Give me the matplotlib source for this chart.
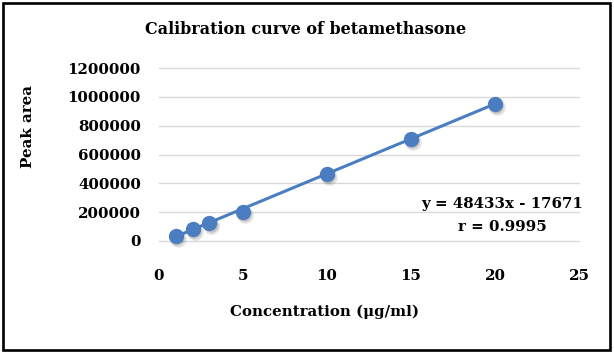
import numpy as np
import matplotlib
matplotlib.use("Agg")
from matplotlib import pyplot as plt
from matplotlib import transforms
from matplotlib.patches import Rectangle

# data
conc = [1, 2, 3, 5, 10, 15, 20]
area = [35000, 85000, 125000, 200000, 465000, 705000, 950000]
slope = 48433
intercept = -17671
eq_text = "y = 48433x - 17671"
r_text = "r = 0.9995"
x_ticks = [0, 5, 10, 15, 20, 25]
y_ticks = [0, 200000, 400000, 600000, 800000, 1000000, 1200000]

blue = "#4A7EC1"
font = "DejaVu Serif"

plt.rcParams["font.family"] = font
plt.rcParams["font.weight"] = "bold"

fig = plt.figure(figsize=(6.14, 3.53), dpi=100)
ax = fig.add_axes([159 / 614, 1 - 241 / 353, 420 / 614, 173 / 353])

# trend line from the fitted equation
xl = np.array([conc[0], conc[-1]])
ax.plot(xl, slope * xl + intercept, color=blue, lw=2.2, zorder=3, clip_on=False)

# soft marker shadow, then markers
for dx, dy, ms, a in [(1.5, -2.0, 12, 0.10), (1.0, -1.5, 10.5, 0.15)]:
    sh = transforms.offset_copy(ax.transData, fig=fig, x=dx, y=dy, units="points")
    ax.plot(conc, area, "o", color="black", mec="none", ms=ms, alpha=a,
            transform=sh, zorder=3.5, clip_on=False)
ax.plot(conc, area, "o", color=blue, ms=10, mec=blue, zorder=4, clip_on=False)

ax.set_xlim(0, 25)
ax.set_ylim(0, 1200000)
ax.set_xticks(x_ticks)
ax.set_yticks(y_ticks)
ax.set_yticklabels([str(v) for v in y_ticks])
ax.grid(axis="y", color="#D9D9D9", lw=1)
for gl in ax.get_ygridlines():
    gl.set_clip_on(False)
ax.set_axisbelow(True)
for s in ax.spines.values():
    s.set_visible(False)
ax.tick_params(length=0, labelsize=10.8)
ax.tick_params(axis="y", pad=13)
ax.tick_params(axis="x", pad=20)

fig.text(306 / 614, 1 - 30 / 353, "Calibration curve of betamethasone",
         ha="center", va="center", fontsize=11.5, fontweight="bold")
fig.text(325 / 614, 1 - 312 / 353, "Concentration (μg/ml)",
         ha="center", va="center", fontsize=10.8, fontweight="bold")
fig.text(28 / 614, 1 - 126 / 353, "Peak area", rotation=90,
         ha="center", va="center", fontsize=10.8, fontweight="bold")
fig.text(502 / 614, 1 - 204 / 353, eq_text, ha="center", va="center",
         fontsize=10.8, fontweight="bold")
fig.text(502 / 614, 1 - 227 / 353, r_text, ha="center", va="center",
         fontsize=10.8, fontweight="bold")

# outer chart border
fig.patches.append(Rectangle((3 / 614, 1 - 349.5 / 353), 607 / 614, 346.5 / 353,
                             transform=fig.transFigure, fill=False,
                             edgecolor="black", lw=1.9))

fig.savefig("out.png", dpi=100)
